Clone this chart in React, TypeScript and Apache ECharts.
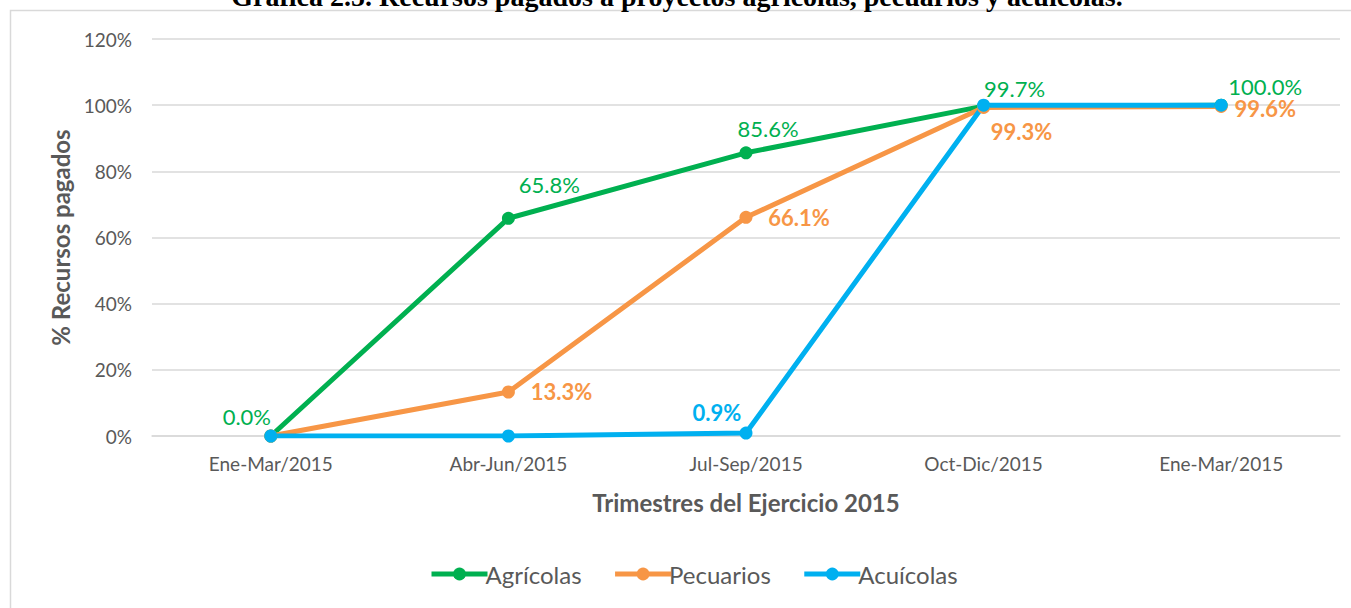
import React, { useEffect, useRef } from "react";
import * as echarts from "echarts";

const categories = ["Ene-Mar/2015", "Abr-Jun/2015", "Jul-Sep/2015", "Oct-Dic/2015", "Ene-Mar/2015"];
const agricolas = [0.0, 65.8, 85.6, 99.7, 100.0];
const pecuarios = [0.0, 13.3, 66.1, 99.3, 99.6];
const acuicolas = [0.0, 0.0, 0.9, 100.0, 100.0];
const yTicks = [0, 20, 40, 60, 80, 100, 120];

// label offsets (px) per point; null = no label
const agrOffsets: ([number, number] | null)[] = [[-24, -20], [41, -34], [22, -24], [31, -18], [44, -19]];
const pecOffsets: ([number, number] | null)[] = [null, [53, 0], [53, 0], [38, 24], [44, 2]];
const acuOffsets: ([number, number] | null)[] = [null, null, [-29, -21], null, null];

const FONT = "Lato";
const GREEN = "#00b050";
const ORANGE = "#f79646";
const BLUE = "#00b0f0";
const GRAY = "#595959";

function buildData(values: number[], offsets: ([number, number] | null)[], color: string, bold: boolean) {
  return values.map((v, i) => {
    const off = offsets[i];
    return {
      value: v,
      label: off
        ? {
            show: true,
            position: "inside",
            color,
            fontSize: 22,
            fontFamily: FONT,
            fontWeight: bold ? "bold" : "normal",
            formatter: (p: any) => Number(p.value).toFixed(1) + "%",
          }
        : { show: false },
    };
  });
}

export default function App() {
  const ref = useRef<HTMLDivElement>(null);
  useEffect(() => {
    if (!ref.current) return;
    const chart = echarts.init(ref.current, undefined, { renderer: "svg" });
    const mkSeries = (name: string, values: number[], offsets: ([number, number] | null)[], color: string, bold: boolean) => ({
      name,
      type: "line",
      data: buildData(values, offsets, color, bold),
      symbol: "circle",
      symbolSize: 13,
      lineStyle: { color, width: 5 },
      itemStyle: { color },
      labelLayout: (params: any) => {
        const off = offsets[params.dataIndex];
        return off ? { dx: off[0], dy: off[1], hideOverlap: false } : {};
      },
    });
    chart.setOption({
      animation: false,
      backgroundColor: "#ffffff",
      graphic: [
        {
          type: "rect",
          shape: { x: 10.5, y: 10.5, width: 1400, height: 700 },
          style: { fill: "none", stroke: "#d9d9d9", lineWidth: 1.5 },
          silent: true,
        },
        {
          type: "text",
          x: 677,
          y: 10,
          style: {
            text: "Gráfica 2.5. Recursos pagados a proyectos agrícolas, pecuarios y acuícolas.",
            font: "bold 28px 'Liberation Serif', 'Times New Roman', serif",
            fill: "#000000",
            textAlign: "center",
            textVerticalAlign: "bottom",
          },
          silent: true,
        },
      ],
      grid: { left: 152, right: 11, top: 39, bottom: 172, containLabel: false },
      legend: {
        bottom: 17,
        left: 424,
        itemWidth: 56,
        itemHeight: 16,
        itemGap: 31,
        lineStyle: { width: 5 },
        textStyle: { color: GRAY, fontSize: 24, fontFamily: FONT, padding: [0, 0, 0, -7] },
        data: ["Agrícolas", "Pecuarios", "Acuícolas"],
      },
      xAxis: {
        type: "category",
        data: categories,
        boundaryGap: true,
        axisLine: { lineStyle: { color: "#d9d9d9", width: 1.5 } },
        axisTick: { show: false },
        axisLabel: { color: GRAY, fontSize: 19, fontFamily: FONT, margin: 18, interval: 0 },
        name: "Trimestres del Ejercicio 2015",
        nameLocation: "middle",
        nameGap: 54,
        nameTextStyle: { color: GRAY, fontSize: 24, fontWeight: "bold", fontFamily: FONT },
      },
      yAxis: {
        type: "value",
        min: yTicks[0],
        max: yTicks[yTicks.length - 1],
        interval: 20,
        axisLine: { show: false },
        axisTick: { show: false },
        splitLine: { lineStyle: { color: "#d9d9d9", width: 1.5 } },
        axisLabel: { color: GRAY, fontSize: 19, fontFamily: FONT, margin: 20, formatter: "{value}%" },
        name: "% Recursos pagados",
        nameLocation: "middle",
        nameGap: 78,
        nameTextStyle: { color: GRAY, fontSize: 24, fontWeight: "bold", fontFamily: FONT },
      },
      series: [
        mkSeries("Agrícolas", agricolas, agrOffsets, GREEN, false),
        mkSeries("Pecuarios", pecuarios, pecOffsets, ORANGE, true),
        mkSeries("Acuícolas", acuicolas, acuOffsets, BLUE, true),
      ],
    });
    return () => chart.dispose();
  }, []);
  return (
    <div
      ref={ref}
      style={{ position: "fixed", left: 0, top: 0, width: 1351, height: 608 }}
    />
  );
}
